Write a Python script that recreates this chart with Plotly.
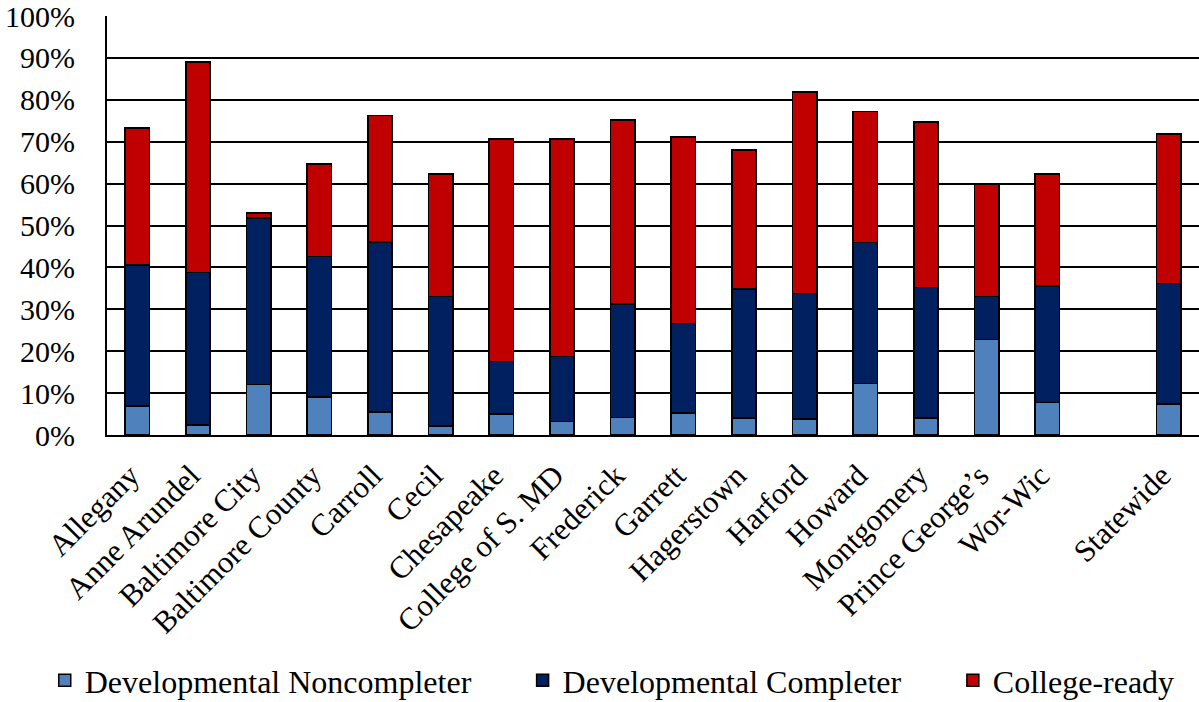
import plotly.graph_objects as go

categories = ["Allegany", "Anne Arundel", "Baltimore City", "Baltimore County", "Carroll",
              "Cecil", "Chesapeake", "College of S. MD", "Frederick", "Garrett",
              "Hagerstown", "Harford", "Howard", "Montgomery", "Prince George\u2019s",
              "Wor-Wic", " ", "Statewide"]

# cumulative tops (percent)
total_top = [73.3, 89.0, 53.0, 64.7, 76.2, 62.3, 70.6, 70.6, 75.2, 71.1, 68.0, 81.9, 77.2, 74.7, 59.8, 62.3, None, 71.8]
completer_top = [40.6, 38.8, 51.8, 42.6, 46.1, 33.1, 17.5, 18.7, 31.3, 26.6, 34.9, 33.8, 45.9, 35.2, 33.0, 35.6, None, 36.2]
noncompleter = [6.9, 2.4, 12.1, 9.1, 5.5, 2.2, 5.0, 3.2, 4.2, 5.2, 4.1, 3.8, 12.3, 4.1, 22.8, 7.8, None, 7.4]

completer = [None if c is None else round(c - n, 1) for c, n in zip(completer_top, noncompleter)]
college_ready = [None if t is None else round(t - c, 1) for t, c in zip(total_top, completer_top)]

series = [
    ("Developmental Noncompleter", noncompleter, "#4F81BD", "legend"),
    ("Developmental Completer", completer, "#002060", "legend2"),
    ("College-ready", college_ready, "#C00000", "legend3"),
]

FONT = "Liberation Serif, Times New Roman, serif"

fig = go.Figure()
for name, vals, color, lg in series:
    fig.add_trace(go.Bar(
        x=categories, y=[None if v is None else v / 100 for v in vals], name=name,
        marker=dict(color=color, line=dict(color="black", width=1.5)),
        legend=lg, showlegend=True,
    ))

leg_common = dict(orientation="h", yanchor="middle", y=-0.586, xanchor="left",
                  font=dict(family=FONT, size=32, color="black"),
                  bgcolor="rgba(0,0,0,0)", itemwidth=30)

fig.update_layout(
    showlegend=True,
    barmode="stack",
    bargap=0.6,
    width=1199, height=702,
    margin=dict(l=107, r=0, t=16, b=267, autoexpand=False),
    paper_bgcolor="white", plot_bgcolor="white",
    font=dict(family=FONT, size=28, color="black"),
    legend=dict(x=-0.057, **leg_common),
    legend2=dict(x=0.3806, **leg_common),
    legend3=dict(x=0.7746, **leg_common),
    xaxis=dict(type="category", tickangle=-45, showline=True, linecolor="black", linewidth=2,
               ticks="", showgrid=False, automargin=False, ticklabeloverflow="allow",
               ticklabelstandoff=8, ticklabelshift=-7,
               tickfont=dict(family=FONT, size=31, color="black")),
    yaxis=dict(range=[0, 1], tickformat=".0%", dtick=0.1, showgrid=True, gridcolor="black",
               gridwidth=1.5, showline=True, linecolor="black", linewidth=2, ticks="",
               zeroline=False, automargin=False, ticklabelstandoff=24,
               ticklabeloverflow="allow",
               tickfont=dict(family=FONT, size=30, color="black")),
)

fig.write_html("out.html", config={"displayModeBar": False},
               post_script="document.body.style.margin='0';document.body.style.overflow='hidden';")
